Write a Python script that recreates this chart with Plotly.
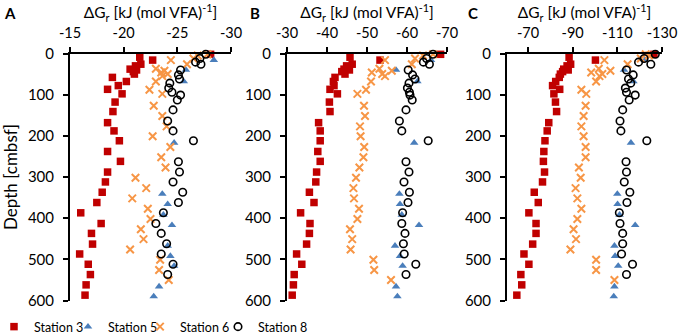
import plotly.graph_objects as go

# ---------------- data ----------------
depth_st3 = [2, 9, 16, 26, 30, 38, 40, 44, 50, 58, 68, 78, 87, 98, 118, 141, 168, 188, 212,
             238, 262, 288, 312, 337, 362, 387, 413, 437, 463, 487, 512, 537, 562, 587]
A_st3 = [-28.1, -21.5, -22.7, -21.6, -21.1, -20.6, -21.2, -20.9, -21.0, -18.95, -20.25, -19.5,
         -18.5, -19.85, -19.2, -19.0, -18.5, -19.1, -19.6, -18.5, -19.7, -18.5, -18.3, -18.0,
         -17.5, -16.0, -17.9, -17.0, -17.1, -15.9, -16.7, -16.9, -16.5, -16.4]
B_st3 = [-68.4, -45.75, -53.25, -46.3, -44.9, -44.25, -45.6, -43.7, -44.5, -42.0, -41.6, -41.75,
         -40.75, -42.6, -40.6, -40.75, -37.9, -38.3, -38.3, -37.7, -38.3, -37.4, -37.2, -35.6,
         -36.75, -33.4, -35.75, -35.6, -34.9, -32.4, -33.7, -31.8, -31.6, -31.3]
C_st3 = [-126.4, -88.4, -100.2, -89.1, -87.5, -86.0, -88.0, -85.5, -84.5, -84.0, -82.4, -81.0,
         -84.2, -81.6, -82.3, -82.8, -79.3, -78.6, -77.6, -77.1, -76.9, -77.4, -76.5, -72.8,
         -74.6, -70.4, -73.6, -73.6, -72.1, -68.2, -70.4, -66.8, -67.2, -65.0]

depth_st5 = [16, 40, 68, 217, 341, 366, 392, 417, 467, 492, 516, 566, 590]
A_st5 = [-28.4, -25.8, -25.6, -24.7, -23.6, -24.1, -23.7, -24.5, -24.1, -24.35, -24.7, -23.3, -22.8]
B_st5 = [-66.0, -57.25, -62.6, -61.8, -58.1, -58.25, -58.7, -63.0, -57.0, -58.25, -58.9, -57.25, -57.6]
C_st5 = [-122.4, -113.0, -117.2, -116.1, -110.0, -110.1, -111.0, -118.0, -108.7, -109.0, -110.4, -108.7, -108.4]

depth_st6 = [2, 5, 12, 16, 26, 37, 42, 46, 50, 55, 68, 88, 98, 127, 152, 177, 201, 227, 252,
             277, 302, 327, 352, 377, 402, 427, 451, 476, 501, 526, 550]
A_st6 = [-27.8, -26.9, -26.5, -24.4, -25.9, -23.0, -23.8, -23.5, -24.1, -23.6, -23.0, -22.4,
         -23.6, -22.8, -23.6, -24.0, -22.7, -24.35, -23.5, -23.9, -21.1, -22.1, -20.8, -22.25,
         -22.5, -21.6, -21.85, -20.6, -23.4, -23.3, -24.2]
B_st6 = [-66.5, -64.0, -62.0, -54.5, -61.2, -53.1, -56.2, -51.2, -53.8, -54.5, -51.0, -49.75,
         -47.6, -49.25, -49.5, -48.25, -48.4, -49.3, -49.1, -48.1, -47.25, -46.6, -46.75, -48.0,
         -47.6, -45.75, -46.3, -45.9, -51.6, -51.8, -56.0]
C_st6 = [-122.7, -124.2, -120.5, -104.2, -114.6, -101.7, -106.9, -98.3, -103.3, -102.0, -100.5,
         -93.9, -96.1, -95.8, -94.9, -93.9, -94.9, -95.8, -95.8, -92.8, -93.6, -91.3, -92.1,
         -93.9, -92.1, -90.4, -91.5, -89.0, -100.5, -100.5, -108.7]

depth_st8 = [2, 12, 21, 26, 40, 52, 62, 72, 84, 94, 101, 113, 137, 164, 188, 212, 263, 288,
             312, 337, 362, 387, 413, 437, 462, 487, 512, 537]
A_st8 = [-27.65, -27.1, -26.7, -27.2, -25.3, -25.1, -25.2, -24.3, -24.2, -24.5, -25.3, -25.0,
         -24.6, -24.1, -24.6, -26.5, -25.1, -25.2, -24.6, -25.5, -25.1, -23.7, -23.0, -23.5,
         -24.0, -23.5, -24.6, -24.1]
B_st8 = [-66.5, -64.9, -64.1, -65.6, -60.3, -61.4, -62.0, -60.5, -60.1, -60.6, -60.75, -61.3,
         -59.75, -58.1, -58.7, -65.3, -59.75, -60.5, -59.25, -60.6, -60.25, -58.9, -58.7, -59.5,
         -59.1, -59.3, -62.2, -59.75]
C_st8 = [-127.0, -122.0, -119.5, -125.0, -114.1, -117.1, -115.0, -116.0, -113.6, -114.1, -118.0,
         -115.3, -112.4, -111.2, -111.6, -123.2, -113.9, -114.1, -113.1, -115.6, -114.3, -110.9,
         -111.2, -112.4, -112.4, -111.9, -116.8, -114.1]

station_names = ["Station 3", "Station 5", "Station 6", "Station 8"]
panel_letters = ["A", "B", "C"]
x_ranges = [[-15, -30], [-30, -70], [-60.6, -130]]
x_ticks = [[-15, -20, -25, -30], [-30, -40, -50, -60, -70], [-70, -90, -110, -130]]
y_ticks = [0, 100, 200, 300, 400, 500, 600]

# ---------------- figure ----------------
FONT = "Lato"
W, H = 680, 336
styles = [
    dict(symbol="square", size=7.5, color="#C00000", line=dict(width=0)),
    dict(symbol="triangle-up", size=7.5, color="#4A7EBB", line=dict(width=0)),
    dict(symbol="x-thin", size=7.5, color="#F79646", line=dict(width=2, color="#F79646")),
    dict(symbol="circle-open", size=7.5, color="black", line=dict(width=1.6, color="black")),
]
depths = [depth_st3, depth_st5, depth_st6, depth_st8]
panel_values = [
    [A_st3, A_st5, A_st6, A_st8],
    [B_st3, B_st5, B_st6, B_st8],
    [C_st3, C_st5, C_st6, C_st8],
]
legend_ids = ["legend", "legend2", "legend3", "legend4"]
legend_left = [-6, 68, 140, 218]   # pixel positions of each legend entry

fig = go.Figure()
for p in range(3):
    xa = "x" if p == 0 else f"x{p+1}"
    ya = "y" if p == 0 else f"y{p+1}"
    for s in range(4):
        fig.add_trace(go.Scatter(
            x=panel_values[p][s], y=depths[s], mode="markers",
            name=station_names[s], legendgroup=station_names[s],
            showlegend=(p == 0), legend=legend_ids[s],
            marker=styles[s], cliponaxis=False,
            xaxis=xa, yaxis=ya,
        ))

x_dom = [[70 / W, 231 / W], [287 / W, 447 / W], [507 / W, 662 / W]]
y_dom = [1 - 300.5 / H, 1 - 53.5 / H]

title_text = "ΔG<sub>r</sub> [kJ (mol VFA)<sup>-1</sup>]"
layout = dict(
    width=W, height=H, margin=dict(l=0, r=0, t=0, b=0, autoexpand=False),
    paper_bgcolor="white", plot_bgcolor="rgba(0,0,0,0)",
    font=dict(family=FONT, size=15, color="black"),
    showlegend=True,
)
for k, lid in enumerate(legend_ids):
    layout[lid] = dict(orientation="h", x=legend_left[k] / W, y=1 - 327 / H,
                       xanchor="left", yanchor="middle", font=dict(size=12.5),
                       itemwidth=30, bgcolor="rgba(0,0,0,0)", borderwidth=0)
for p in range(3):
    xk = "xaxis" if p == 0 else f"xaxis{p+1}"
    yk = "yaxis" if p == 0 else f"yaxis{p+1}"
    ya = "y" if p == 0 else f"y{p+1}"
    xa = "x" if p == 0 else f"x{p+1}"
    layout[xk] = dict(
        domain=x_dom[p], anchor=ya, side="top", range=x_ranges[p],
        tickvals=x_ticks[p], ticktext=[str(v) for v in x_ticks[p]],
        showline=True, linecolor="black", linewidth=2, mirror=False,
        ticks="outside", ticklen=5, tickwidth=2, tickcolor="black",
        showgrid=False, zeroline=False, tickfont=dict(size=14.5),
        ticklabelstandoff=3, automargin=False,
        title=dict(text=title_text, font=dict(size=15.5), standoff=0),
    )
    ydict = dict(
        domain=y_dom, anchor=xa, range=[600, 0], tickvals=y_ticks,
        showline=True, linecolor="black", linewidth=2,
        ticks="outside", ticklen=5, tickwidth=2, tickcolor="black",
        showgrid=False, zeroline=False, tickfont=dict(size=15),
        ticklabelstandoff=6, automargin=False,
    )
    if p == 0:
        ydict["title"] = dict(text="Depth [cmbsf]", font=dict(size=17), standoff=6)
    layout[yk] = ydict
fig.update_layout(**layout)

letter_x = [10, 255, 473]
for p in range(3):
    fig.add_annotation(text=f"<b>{panel_letters[p]}</b>", x=letter_x[p] / W, y=1 - 13 / H,
                       xref="paper", yref="paper", showarrow=False,
                       font=dict(size=15, family=FONT), xanchor="center", yanchor="middle")

fig.write_html("out.html", config={"displayModeBar": False},
               post_script="document.body.style.margin='0px';")
